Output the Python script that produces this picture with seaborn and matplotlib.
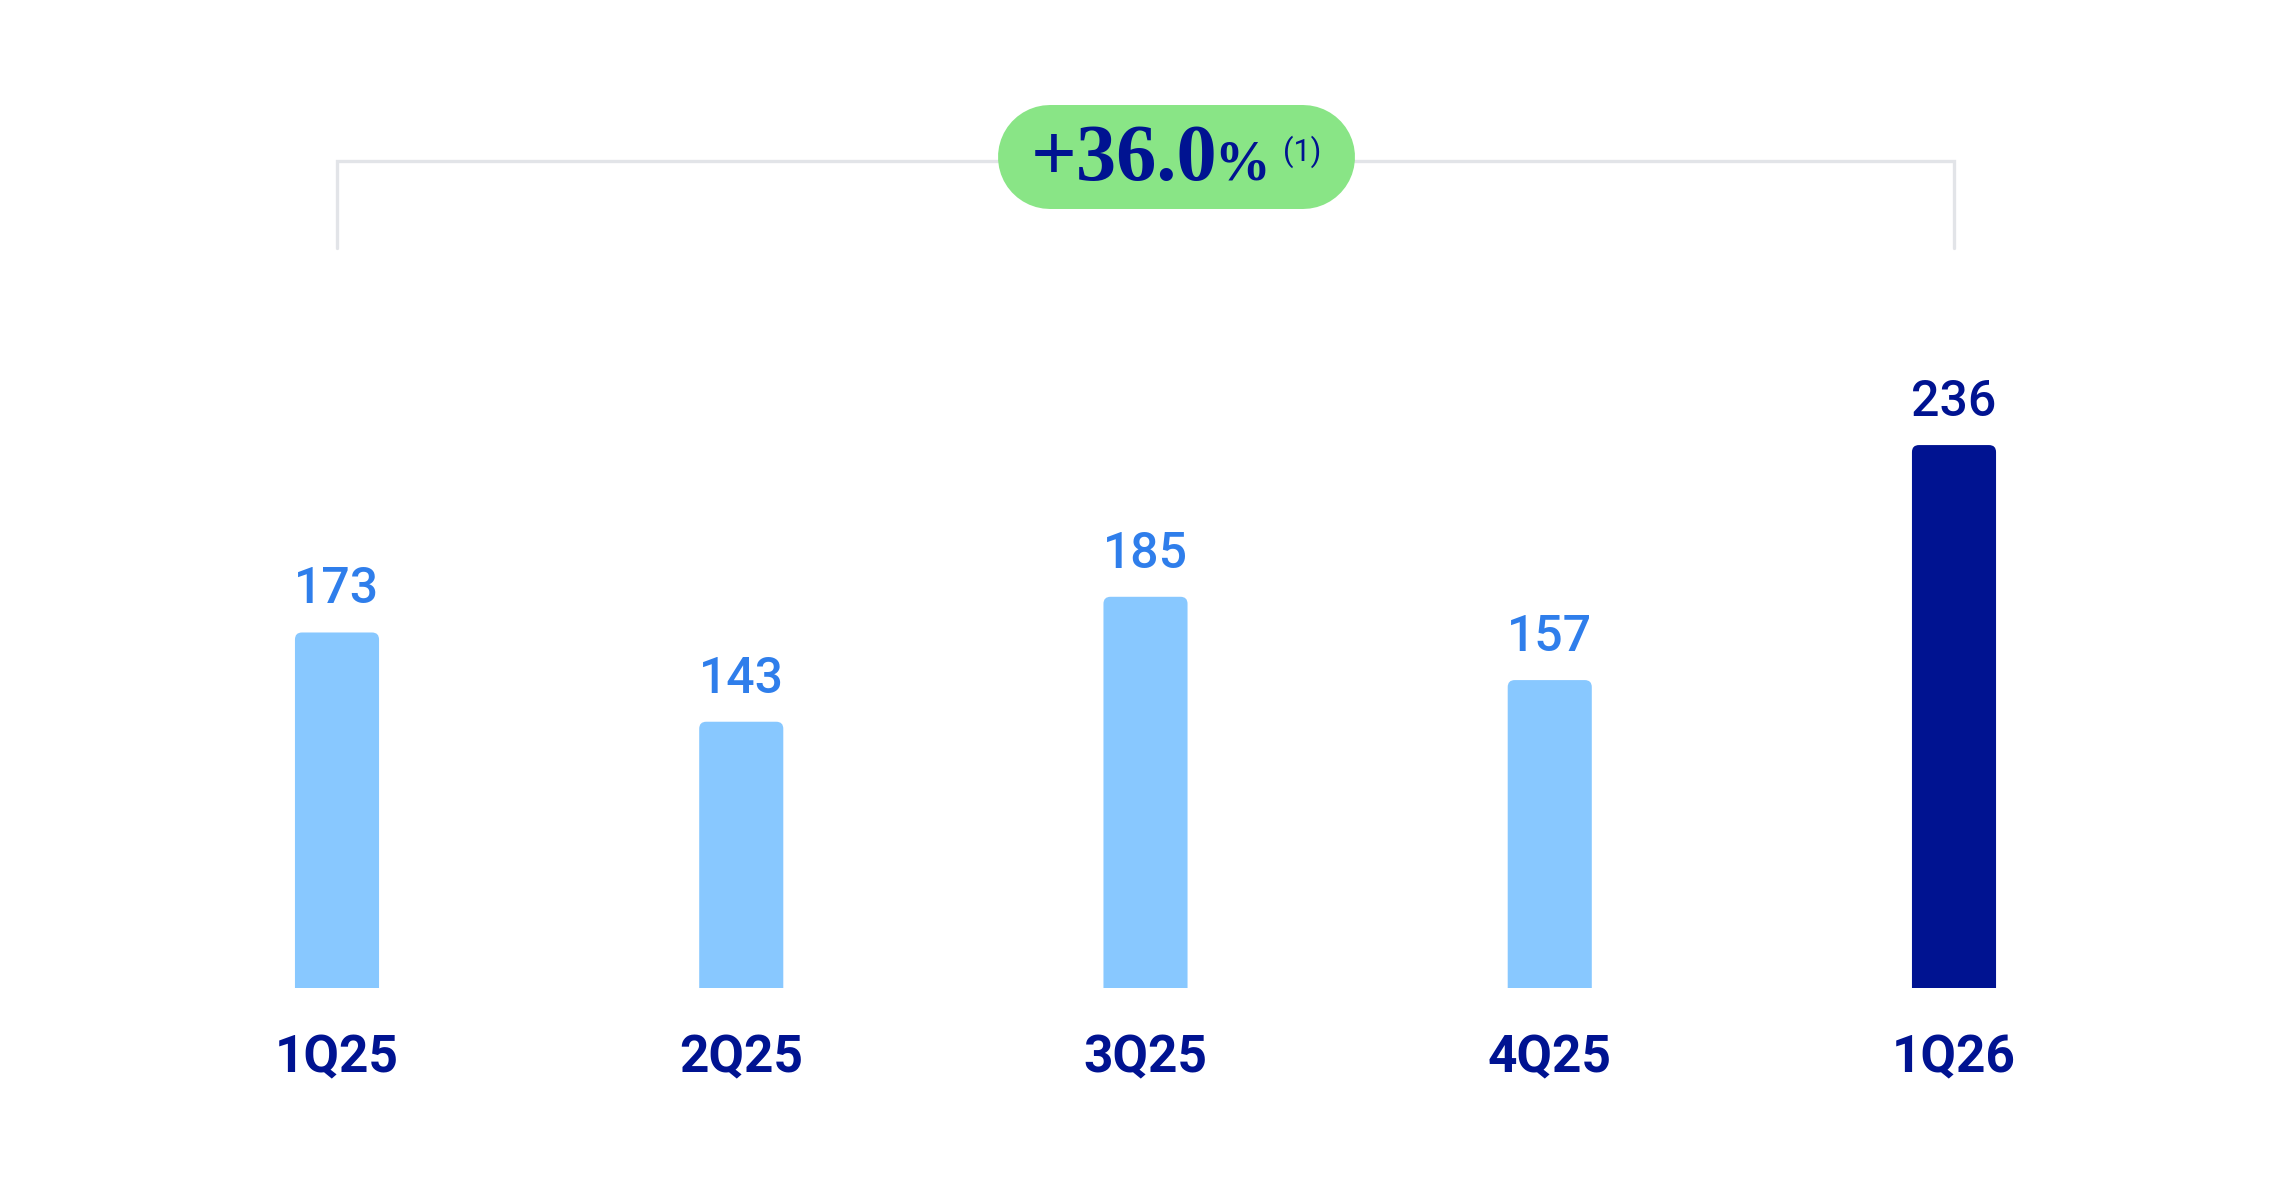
import matplotlib
matplotlib.use("Agg")
import matplotlib.pyplot as plt
from matplotlib.patches import FancyBboxPatch
from matplotlib.lines import Line2D
import seaborn as sns
import pandas as pd

# ---- data ----
categories = ["1Q25", "2Q25", "3Q25", "4Q25", "1Q26"]
values = [173, 143, 185, 157, 236]
bar_colors = ["#88C8FF", "#88C8FF", "#88C8FF", "#88C8FF", "#001391"]
label_colors = ["#2F7EEB", "#2F7EEB", "#2F7EEB", "#2F7EEB", "#001391"]
growth_text = "+36.0"
growth_pct = "%"
growth_note = "(1)"

W, H = 2292, 1188
sns.set_theme(style="white")
plt.rcParams["font.family"] = ["Roboto", "DejaVu Sans"]

fig = plt.figure(figsize=(W / 100, H / 100), dpi=100)
fig.patch.set_facecolor("white")

ax_bottom = 200
ax = fig.add_axes([0, ax_bottom / H, 1, (H - ax_bottom) / H])
ax.set_facecolor("white")

df = pd.DataFrame({"quarter": categories, "value": values})
sns.barplot(data=df, x="quarter", y="value", hue="quarter",
            palette=dict(zip(categories, bar_colors)), legend=False,
            width=0.208, saturation=1, ax=ax)

px_per_x = 404.25
px_per_y = 2.975
y0 = 53.5
ax.set_xlim(-337 / px_per_x, (W - 337) / px_per_x)
ax.set_ylim(y0, y0 + (H - ax_bottom) / px_per_y)

# rounded tops
aspect = (1 / px_per_y) / (1 / px_per_x)
for p in list(ax.patches):
    x, w, h = p.get_x(), p.get_width(), p.get_height()
    fc = p.get_facecolor()
    p.set_visible(False)
    rp = FancyBboxPatch((x, 0), w, h,
                        boxstyle=f"round,pad=0,rounding_size={7 / px_per_x}",
                        mutation_aspect=aspect, facecolor=fc, edgecolor="none",
                        clip_on=True)
    ax.add_patch(rp)

ax.set_xticks([])
ax.set_yticks([])
ax.set_xlabel("")
ax.set_ylabel("")
for s in ax.spines.values():
    s.set_visible(False)

# value labels
for i, (v, c) in enumerate(zip(values, label_colors)):
    ax.text(i, v + 29 / px_per_y, f"{v}", ha="center", va="baseline",
            fontsize=36, color=c, fontweight="medium")

# category labels
for i, cat in enumerate(categories):
    ax.text(i, y0 - (ax_bottom - 116) / px_per_y, cat, ha="center",
            va="baseline", fontsize=37, color="#001391", fontweight="bold",
            clip_on=False)

# bracket (x in data, y in axes fraction)
def yfrac(ytop):
    return ((H - ytop) - ax_bottom) / (H - ax_bottom)

gray = "#E2E4E8"
ax.plot([0, 0, 4, 4], [yfrac(248), yfrac(161), yfrac(161), yfrac(248)],
        color=gray, lw=2.4, transform=ax.get_xaxis_transform(),
        clip_on=False, solid_joinstyle="miter", zorder=1)

# pill as a thick round-capped line (figure pixels)
def fx(x):
    return x / W

def fy(ytop):
    return 1 - ytop / H

pill_h = 209 - 105
r = pill_h / 2
pill = Line2D([fx(998 + r), fx(1355 - r)], [fy(157), fy(157)],
              transform=fig.transFigure, color="#89E586",
              lw=pill_h * 72 / 100, solid_capstyle="round", zorder=5)
fig.lines.append(pill)
pill.set_figure(fig)

serif = ["Liberation Serif", "DejaVu Serif"]
t1 = fig.text(fx(1031), fy(180), growth_text, ha="left", va="baseline",
              fontsize=58, fontweight="bold", color="#001391",
              family=serif, zorder=6)
fig.canvas.draw()
renderer = fig.canvas.get_renderer()
bb = t1.get_window_extent(renderer)
t2 = fig.text(bb.x1 / W - 4 / W, fy(180), growth_pct, ha="left",
              va="baseline", fontsize=40, fontweight="bold",
              color="#001391", family=serif, zorder=6)
bb2 = t2.get_window_extent(renderer)
fig.text(bb2.x1 / W + 14 / W, fy(152), growth_note, ha="left", va="center",
         fontsize=22, color="#001391", family=["Roboto", "DejaVu Sans"],
         zorder=6)

fig.savefig("out.png", dpi=100, facecolor="white")
